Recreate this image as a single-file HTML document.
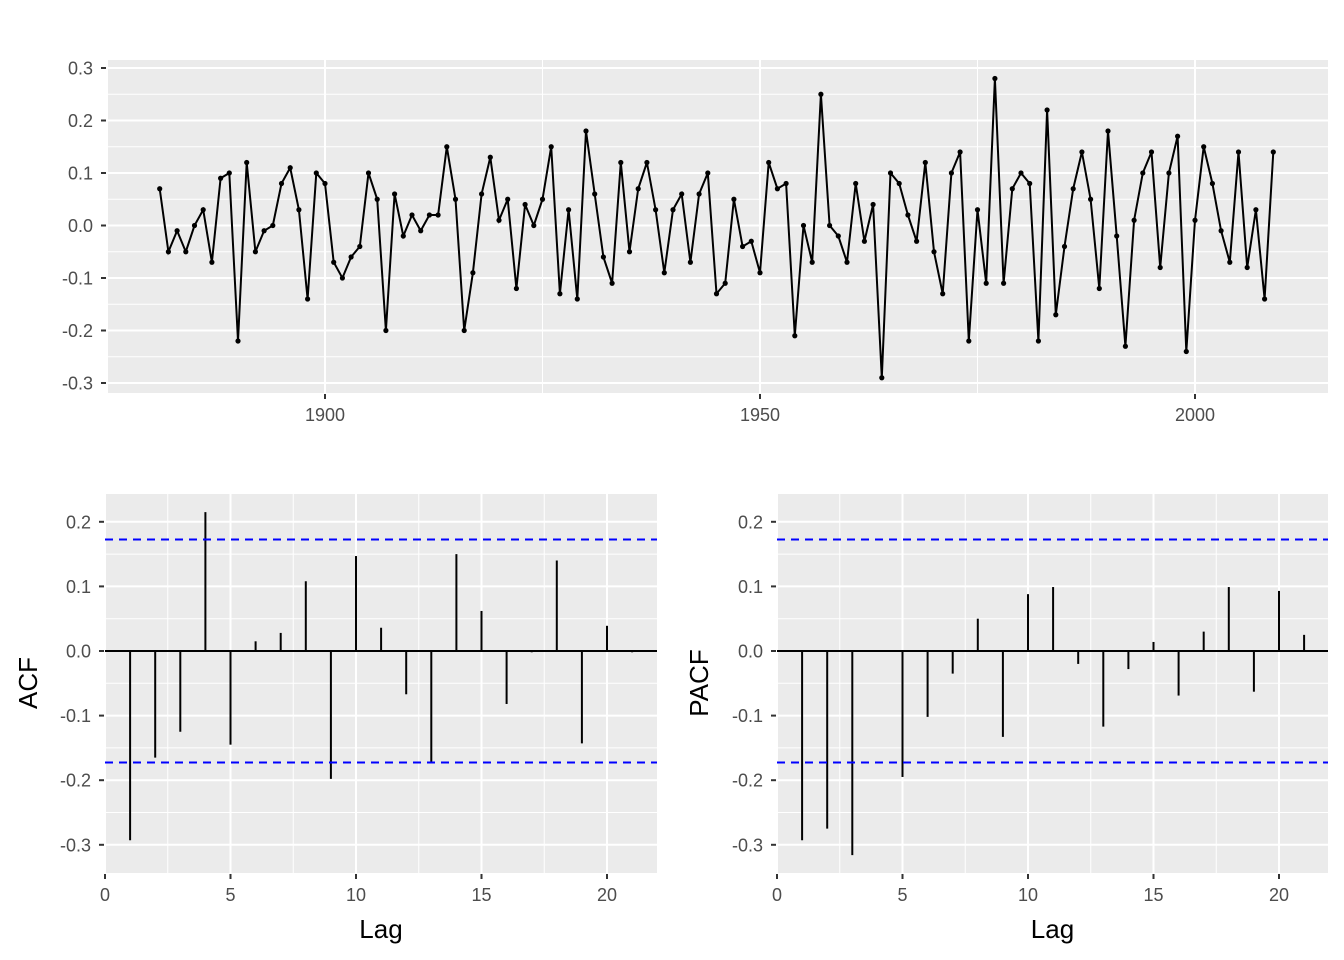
<!DOCTYPE html>
<html><head><meta charset="utf-8"><style>
body{margin:0;background:#fff}
svg{display:block;font-family:"Liberation Sans",sans-serif}
</style></head><body>
<svg id="c" width="1344" height="960"></svg>
<script>
const years0 = 1881;
const series = [0.07,-0.05,-0.01,-0.05,0.00,0.03,-0.07,0.09,0.10,-0.22,0.12,-0.05,-0.01,0.00,0.08,0.11,0.03,-0.14,0.10,0.08,-0.07,-0.10,-0.06,-0.04,0.10,0.05,-0.20,0.06,-0.02,0.02,-0.01,0.02,0.02,0.15,0.05,-0.20,-0.09,0.06,0.13,0.01,0.05,-0.12,0.04,0.00,0.05,0.15,-0.13,0.03,-0.14,0.18,0.06,-0.06,-0.11,0.12,-0.05,0.07,0.12,0.03,-0.09,0.03,0.06,-0.07,0.06,0.10,-0.13,-0.11,0.05,-0.04,-0.03,-0.09,0.12,0.07,0.08,-0.21,0.00,-0.07,0.25,0.00,-0.02,-0.07,0.08,-0.03,0.04,-0.29,0.10,0.08,0.02,-0.03,0.12,-0.05,-0.13,0.10,0.14,-0.22,0.03,-0.11,0.28,-0.11,0.07,0.10,0.08,-0.22,0.22,-0.17,-0.04,0.07,0.14,0.05,-0.12,0.18,-0.02,-0.23,0.01,0.10,0.14,-0.08,0.10,0.17,-0.24,0.01,0.15,0.08,-0.01,-0.07,0.14,-0.08,0.03,-0.14,0.14];
const acfVals = [-0.293,-0.165,-0.125,0.215,-0.145,0.015,0.028,0.108,-0.198,0.147,0.036,-0.067,-0.172,0.15,0.062,-0.082,-0.002,0.14,-0.143,0.039,-0.002];
const pacfVals = [-0.293,-0.275,-0.316,0.0,-0.195,-0.102,-0.035,0.05,-0.133,0.088,0.099,-0.02,-0.117,-0.028,0.014,-0.069,0.03,0.099,-0.063,0.093,0.025];
const yTicks = [-0.3,-0.2,-0.1,0.0,0.1,0.2,0.3];
const yTickLabels = ["-0.3","-0.2","-0.1","0.0","0.1","0.2","0.3"];
const xYearTicks = [1900,1950,2000];
const lagTicks = [0,5,10,15,20];

const svg=document.getElementById('c');const NS='http://www.w3.org/2000/svg';
function el(t,a,p){const e=document.createElementNS(NS,t);for(const k in a)e.setAttribute(k,a[k]);(p||svg).appendChild(e);return e;}
function txt(s,a,p){const e=el('text',a,p);e.textContent=s;return e;}

function panel(name,x0,x1,y0,y1,xs,ys,xmaj,xmin,ymaj,ymin){
  const g=el('g',{});
  
  
  el('rect',{x:x0,y:y0,width:x1-x0,height:y1-y0,fill:'#ebebeb'},g);
  xmin.forEach(v=>el('line',{x1:xs(v),x2:xs(v),y1:y0,y2:y1,stroke:'#fff','stroke-width':1},g));
  ymin.forEach(v=>el('line',{x1:x0,x2:x1,y1:ys(v),y2:ys(v),stroke:'#fff','stroke-width':1},g));
  xmaj.forEach(v=>el('line',{x1:xs(v),x2:xs(v),y1:y0,y2:y1,stroke:'#fff','stroke-width':2},g));
  ymaj.forEach(v=>el('line',{x1:x0,x2:x1,y1:ys(v),y2:ys(v),stroke:'#fff','stroke-width':2},g));
  return g;
}
function yAxis(x0,ys,ticks,labels){
  ticks.forEach((v,i)=>{
    el('line',{x1:x0-6,x2:x0-1,y1:ys(v),y2:ys(v),stroke:'#333','stroke-width':2});
    const t=txt(labels[i],{x:x0-14,y:ys(v)+6.5,'text-anchor':'end','font-size':18,fill:'#4d4d4d'});
    
    
  });
}
function xAxis(y1,xs,ticks){
  ticks.forEach(v=>{
    el('line',{x1:xs(v),x2:xs(v),y1:y1+1,y2:y1+6,stroke:'#333','stroke-width':2});
    const t=txt(String(v),{x:xs(v),y:y1+28,'text-anchor':'middle','font-size':18,fill:'#4d4d4d'});
    
    
  });
}

// Top time series
const tx=y=>325+(y-1900)*8.7, ty=v=>225.5-v*525;
const maj=yTicks, minT=[-0.25,-0.15,-0.05,0.05,0.15,0.25];
panel('time-series',107,1328,60,393,tx,ty,xYearTicks,[1875,1925,1975],maj,minT);
yAxis(107,ty,yTicks,yTickLabels);
xAxis(393,tx,xYearTicks);
const pts=series.map((v,i)=>tx(years0+i)+','+ty(v)).join(' ');
const pl=el('polyline',{points:pts,fill:'none',stroke:'#000','stroke-width':2});


series.forEach((v,i)=>{const c=el('circle',{cx:tx(years0+i),cy:ty(v),r:2.6,fill:'#000'});
  
  });

// ACF / PACF
const ay=v=>651-v*646;
const accTicks=[-0.3,-0.2,-0.1,0.0,0.1,0.2], accLabels=["-0.3","-0.2","-0.1","0.0","0.1","0.2"];
const ci=1.96/Math.sqrt(series.length);
function corrPanel(name,x0,x1,vals,label,labx){
  const xs=v=>x0+v*25.1;
  panel(name,x0,x1,494,873,xs,ay,lagTicks,[2.5,7.5,12.5,17.5],accTicks,[-0.25,-0.15,-0.05,0.05,0.15]);
  yAxis(x0,ay,accTicks,accLabels);
  xAxis(873,xs,lagTicks);
  el('line',{x1:x0,x2:x1,y1:ay(0),y2:ay(0),stroke:'#000','stroke-width':2});
  vals.forEach((v,i)=>{const b=el('line',{x1:xs(i+1),x2:xs(i+1),y1:ay(0),y2:ay(v),stroke:'#000','stroke-width':2});
    
    });
  [ci,-ci].forEach(c=>{const l=el('line',{x1:x0,x2:x1,y1:ay(c),y2:ay(c),stroke:'#0000ff','stroke-width':2,'stroke-dasharray':'8,6'});
    
    });
  const t=txt('Lag',{x:(x0+x1)/2,y:938,'text-anchor':'middle','font-size':26,fill:'#000'});
  
  
  const yt=txt(label,{x:0,y:0,'text-anchor':'middle','font-size':26,fill:'#000',transform:`translate(${labx},683) rotate(-90)`});
  
  
}
corrPanel('acf',105,657,acfVals,'ACF',37);
corrPanel('pacf',777,1328,pacfVals,'PACF',708);
</script>
</body></html>
